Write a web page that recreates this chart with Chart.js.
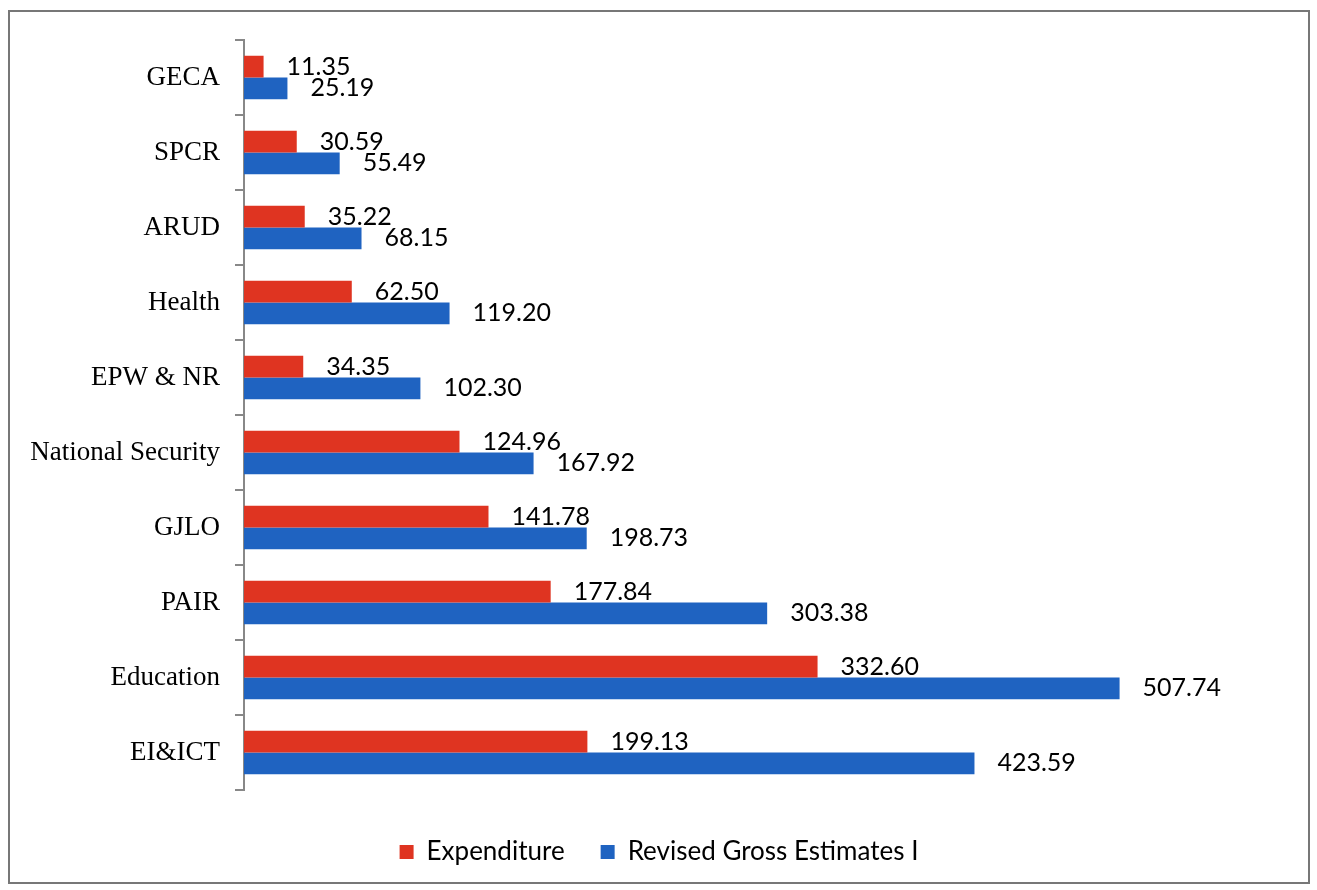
<!DOCTYPE html>
<html>
<head>
<meta charset="utf-8">
<script src="https://cdn.jsdelivr.net/npm/chart.js@4"></script>
<style>
  body { margin: 0; background: #fff; }
  #box { position: absolute; left: 8px; top: 10px; width: 1298px; height: 870px; border: 2px solid #777; }
  canvas { display: block; }
</style>
</head>
<body>
<div id="box"><canvas id="budgetChart" width="1298" height="870"></canvas></div>
<script>
const categories = ['GECA', 'SPCR', 'ARUD', 'Health', 'EPW & NR', 'National Security', 'GJLO', 'PAIR', 'Education', 'EI&ICT'];
const expenditure = [11.35, 30.59, 35.22, 62.50, 34.35, 124.96, 141.78, 177.84, 332.60, 199.13];
const revisedEstimates = [25.19, 55.49, 68.15, 119.20, 102.30, 167.92, 198.73, 303.38, 507.74, 423.59];

// value labels to the right of each bar
const valueLabels = {
  id: 'valueLabels',
  afterDatasetsDraw(chart) {
    const ctx = chart.ctx;
    ctx.save();
    ctx.font = '25px Lato';
    ctx.fillStyle = '#000';
    ctx.textBaseline = 'middle';
    chart.data.datasets.forEach((ds, i) => {
      chart.getDatasetMeta(i).data.forEach((bar, j) => {
        ctx.fillText(ds.data[j].toFixed(2), bar.x + 23, bar.y);
      });
    });
    ctx.restore();
  }
};

new Chart(document.getElementById('budgetChart'), {
  type: 'bar',
  data: {
    labels: categories,
    datasets: [
      { label: 'Expenditure', data: expenditure, backgroundColor: '#DF3421' },
      { label: 'Revised Gross Estimates I', data: revisedEstimates, backgroundColor: '#1F63C1' }
    ]
  },
  options: {
    indexAxis: 'y',
    responsive: false,
    animation: false,
    layout: { padding: { top: 28, right: 0, bottom: 7, left: 0 } },
    datasets: { bar: { categoryPercentage: 0.58, barPercentage: 1 } },
    scales: {
      x: {
        min: 0,
        max: 617,
        ticks: { display: false },
        grid: { display: false },
        border: { display: false },
        afterFit(s) { s.height = 13; }
      },
      y: {
        grid: { offset: true, drawOnChartArea: false, tickLength: 9, color: '#888', lineWidth: 2 },
        border: { color: '#888', width: 2 },
        ticks: { color: '#000', font: { family: 'Liberation Serif', size: 27 }, padding: 15 },
        afterFit(s) {
          s.width = 234;
          s.paddingTop = 0;
          s.paddingBottom = 0;
        }
      }
    },
    plugins: {
      legend: {
        position: 'bottom',
        labels: {
          boxWidth: 14,
          boxHeight: 14,
          padding: 36,
          color: '#000',
          font: { family: 'Lato', size: 26 }
        }
      },
      tooltip: { enabled: false }
    }
  },
  plugins: [valueLabels]
});
</script>
</body>
</html>
